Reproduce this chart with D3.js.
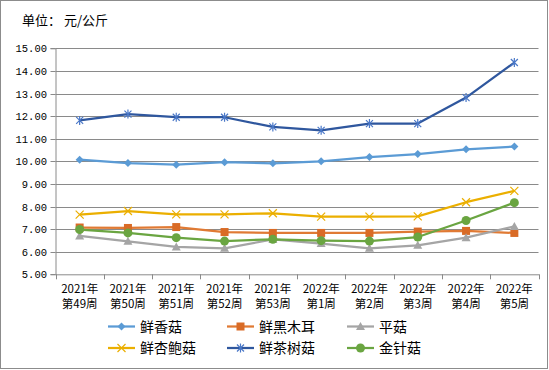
<!DOCTYPE html>
<html><head><meta charset="utf-8">
<script src="https://cdn.jsdelivr.net/npm/d3@7/dist/d3.min.js"></script>
<style>html,body{margin:0;padding:0;background:#fff;}svg{display:block;}</style>
</head><body><div id="chart"></div>
<script>
const categories = [["2021年","第49周"],["2021年","第50周"],["2021年","第51周"],["2021年","第52周"],["2021年","第53周"],["2022年","第1周"],["2022年","第2周"],["2022年","第3周"],["2022年","第4周"],["2022年","第5周"]];
const seriesNames = ["鲜香菇","鲜黑木耳","平菇","鲜杏鲍菇","鲜茶树菇","金针菇"];
const xianggu   = [10.07, 9.92, 9.85, 9.96, 9.91, 10.00, 10.19, 10.32, 10.53, 10.65];
const heimuer   = [7.07, 7.05, 7.09, 6.87, 6.83, 6.83, 6.83, 6.89, 6.92, 6.83];
const pinggu    = [6.70, 6.46, 6.21, 6.15, 6.54, 6.36, 6.15, 6.28, 6.62, 7.12];
const xingbaogu = [7.64, 7.80, 7.65, 7.65, 7.70, 7.55, 7.55, 7.56, 8.19, 8.69];
const chashugu  = [11.81, 12.09, 11.95, 11.95, 11.52, 11.37, 11.67, 11.67, 12.82, 14.37];
const jinzhengu = [6.98, 6.83, 6.62, 6.47, 6.55, 6.49, 6.47, 6.65, 7.38, 8.17];
const yTicks = [5,6,7,8,9,10,11,12,13,14,15];
const unitLabel = "单位： 元/公斤";

const seriesValues = [xianggu, heimuer, pinggu, xingbaogu, chashugu, jinzhengu];
const styles = [
  {line:"#5B9BD5", mark:"#5B9BD5", shape:"diamond"},
  {line:"#E07A34", mark:"#D96B26", shape:"square"},
  {line:"#A5A5A5", mark:"#A5A5A5", shape:"triangle"},
  {line:"#EBAF00", mark:"#EBAF00", shape:"x"},
  {line:"#2F579E", mark:"#4A78C8", shape:"star"},
  {line:"#6AA541", mark:"#6AA541", shape:"circle"}
];

const W = 549, H = 370;
const svg = d3.select("#chart").append("svg").attr("width", W).attr("height", H);
svg.append("rect").attr("x",0.5).attr("y",0.5).attr("width",547).attr("height",368)
  .attr("fill","#fff").attr("stroke","#8c8c8c");

const pLeft = 55.5, pRight = 538.5, pTop = 48.3, pBottom = 274.3;
const x = d3.scaleBand().domain(d3.range(categories.length)).range([pLeft, pRight]);
const y = d3.scaleLinear().domain([5,15]).range([pBottom, pTop]);

const font = "'Noto Sans CJK SC', 'Noto Sans', sans-serif";

// title
svg.append("text").attr("x",22).attr("y",25).text(unitLabel)
  .attr("font-family",font).attr("font-size",13).attr("fill","#000");

// gridlines
svg.append("g").selectAll("line").data(yTicks.slice(1)).join("line")
  .attr("x1",pLeft).attr("x2",pRight)
  .attr("y1",d=>Math.round(y(d))+0.5).attr("y2",d=>Math.round(y(d))+0.5)
  .attr("stroke","#8a8a8a").attr("stroke-width",1);

// y axis
const yAxis = d3.axisLeft(y).tickValues(yTicks).tickFormat(d3.format(".2f")).tickSize(5).tickPadding(4);
const gy = svg.append("g").attr("transform",`translate(${pLeft},0)`).call(yAxis);
gy.select(".domain").attr("stroke","#8a8a8a");
gy.selectAll(".tick line").attr("stroke","#8a8a8a");
gy.selectAll(".tick").attr("transform",d=>`translate(0,${Math.round(y(d))+0.5})`);
gy.selectAll("text").attr("font-family","'Liberation Mono', monospace").attr("font-size",10.5)
  .attr("fill","#000").attr("x",-8.5);

// x axis
const xAxis = d3.axisBottom(x).tickSize(0).tickFormat("");
const gx = svg.append("g").attr("transform",`translate(0,${pBottom})`).call(xAxis);
gx.select(".domain").attr("stroke","#8a8a8a");
svg.append("g").selectAll("line").data(d3.range(categories.length+1)).join("line")
  .attr("x1",i=>Math.round(pLeft + i*x.step())+0.5).attr("x2",i=>Math.round(pLeft + i*x.step())+0.5)
  .attr("y1",pBottom).attr("y2",pBottom+5).attr("stroke","#8a8a8a");
const xlg = svg.append("g").attr("font-family",font).attr("font-size",11.5).attr("fill","#000").attr("text-anchor","middle");
xlg.selectAll("text.l1").data(categories).join("text").attr("class","l1")
  .attr("x",(d,i)=>x(i)+x.bandwidth()/2).attr("y",293).text(d=>d[0]);
xlg.selectAll("text.l2").data(categories).join("text").attr("class","l2")
  .attr("x",(d,i)=>x(i)+x.bandwidth()/2).attr("y",307.5).text(d=>d[1]);

function marker(g, shape, color){
  switch(shape){
    case "diamond": g.append("path").attr("d","M0,-4L4,0L0,4L-4,0Z").attr("fill",color); break;
    case "square": g.append("rect").attr("x",-4).attr("y",-4).attr("width",8).attr("height",8).attr("fill",color); break;
    case "triangle": g.append("path").attr("d","M0,-4.5L4.5,3.5L-4.5,3.5Z").attr("fill",color); break;
    case "circle": g.append("circle").attr("r",4.5).attr("fill",color); break;
    case "x": g.append("path").attr("d","M-4,-4L4,4M-4,4L4,-4").attr("stroke",color).attr("stroke-width",1.2).attr("fill","none"); break;
    case "star": g.append("path").attr("d","M-3.5,-3.5L3.5,3.5M-3.5,3.5L3.5,-3.5M0,-4.5L0,4.5").attr("stroke",color).attr("stroke-width",1.2).attr("fill","none"); break;
  }
}

const line = d3.line().x((d,i)=>x(i)+x.bandwidth()/2).y(d=>y(d));
seriesValues.forEach((vals, si)=>{
  const st = styles[si];
  svg.append("path").datum(vals).attr("d",line).attr("fill","none")
    .attr("stroke",st.line).attr("stroke-width",2.25).attr("stroke-linejoin","round");
});
seriesValues.forEach((vals, si)=>{
  const st = styles[si];
  vals.forEach((v,i)=>{
    const g = svg.append("g").attr("transform",`translate(${x(i)+x.bandwidth()/2},${y(v)})`);
    marker(g, st.shape, st.mark);
  });
});

// legend
const legX = [108, 227, 347], legY = [326.5, 348];
seriesNames.forEach((name, si)=>{
  const st = styles[si];
  const lx = legX[si%3], ly = legY[Math.floor(si/3)];
  const g = svg.append("g").attr("transform",`translate(${lx},${ly})`);
  g.append("line").attr("x1",0).attr("x2",27).attr("y1",0).attr("y2",0)
    .attr("stroke",st.line).attr("stroke-width",2.25);
  const m = g.append("g").attr("transform","translate(13.5,0)");
  marker(m, st.shape, st.mark);
  g.append("text").attr("x",32).attr("y",5).text(name)
    .attr("font-family",font).attr("font-size",14).attr("fill","#000");
});
</script></body></html>
